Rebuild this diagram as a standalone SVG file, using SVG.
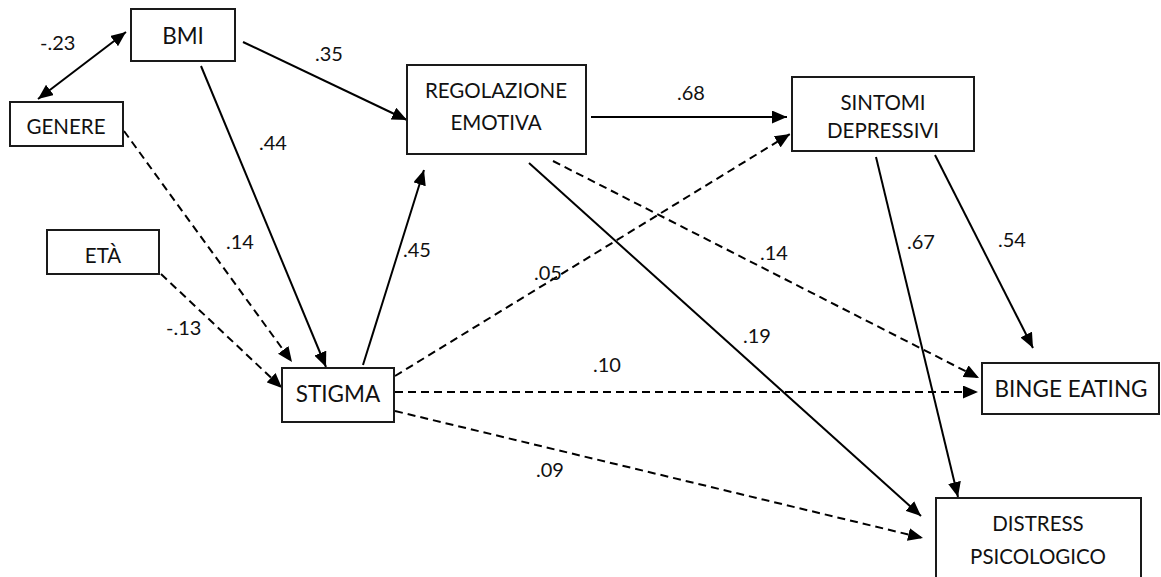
<svg xmlns="http://www.w3.org/2000/svg" width="1161" height="577" viewBox="0 0 1161 577">
<style>
.box{fill:#fff;stroke:#1a1a1a;stroke-width:2}
.t{font-family:Lato,"Liberation Sans",sans-serif;font-size:20.5px;fill:#111;text-anchor:middle}
.tb{font-size:22.5px}
.lbl{font-family:Lato,"Liberation Sans",sans-serif;font-size:20px;fill:#111}
.c{stroke:#000;stroke-width:2;fill:none;marker-end:url(#ah)}
.d{stroke-dasharray:8 5}
</style>
<defs>
<marker id="ah" markerUnits="userSpaceOnUse" markerWidth="15" markerHeight="13" refX="15" refY="6.5" orient="auto-start-reverse">
<path d="M0,0 L15,6.5 L0,13 z" fill="#000"/>
</marker>
</defs>
<rect width="1161" height="577" fill="#fff"/>
<g id="connectors">
<line class="c" x1="38" y1="99" x2="126" y2="32" marker-start="url(#ah)"/>
<line class="c" x1="243" y1="42" x2="407" y2="120"/>
<line class="c" x1="201" y1="66" x2="326" y2="367"/>
<line class="c d" x1="124" y1="131" x2="292" y2="362"/>
<line class="c d" x1="161" y1="274" x2="282" y2="388"/>
<line class="c" x1="363" y1="365" x2="424" y2="170"/>
<line class="c" x1="591" y1="117" x2="787" y2="117"/>
<line class="c d" x1="395" y1="376" x2="790" y2="134"/>
<line class="c" x1="529" y1="163" x2="921" y2="516"/>
<line class="c d" x1="553" y1="161" x2="979" y2="378"/>
<line class="c" x1="935" y1="155" x2="1033" y2="348"/>
<line class="c" x1="876" y1="157" x2="958" y2="497"/>
<line class="c d" x1="395" y1="392" x2="978" y2="392"/>
<line class="c d" x1="395" y1="411" x2="923" y2="538"/>
<text class="lbl" x="40" y="50">-.23</text>
<text class="lbl" x="315" y="61">.35</text>
<text class="lbl" x="259" y="150">.44</text>
<text class="lbl" x="226" y="249">.14</text>
<text class="lbl" x="166" y="335">-.13</text>
<text class="lbl" x="403" y="257">.45</text>
<text class="lbl" x="677" y="100">.68</text>
<text class="lbl" x="534" y="280">.05</text>
<text class="lbl" x="743" y="343">.19</text>
<text class="lbl" x="760" y="260">.14</text>
<text class="lbl" x="998" y="247">.54</text>
<text class="lbl" x="907" y="249">.67</text>
<text class="lbl" x="593" y="372">.10</text>
<text class="lbl" x="536" y="477">.09</text>
</g>
<g id="bmi"><rect class="box" x="131" y="9" width="104" height="52"/><text class="t tb" x="183" y="44">BMI</text></g>
<g id="genere"><rect class="box" x="10" y="102" width="113" height="44"/><text class="t" x="66" y="134">GENERE</text></g>
<g id="eta"><rect class="box" x="47" y="230" width="112" height="44"/><text class="t" x="103" y="263">ETÀ</text></g>
<g id="stigma"><rect class="box" x="282" y="368" width="112" height="54"/><text class="t tb" x="338" y="402">STIGMA</text></g>
<g id="regolazione"><rect class="box" x="407" y="65" width="179" height="89"/><text class="t" x="496" y="98">REGOLAZIONE</text><text class="t" x="496" y="130">EMOTIVA</text></g>
<g id="sintomi"><rect class="box" x="792" y="77" width="182" height="74"/><text class="t" x="883" y="110">SINTOMI</text><text class="t" x="883" y="138">DEPRESSIVI</text></g>
<g id="binge"><rect class="box" x="982" y="363" width="177" height="51"/><text class="t tb" x="1071" y="397">BINGE EATING</text></g>
<g id="distress"><rect class="box" x="936" y="498" width="205" height="90"/><text class="t" x="1038" y="531">DISTRESS</text><text class="t" x="1038" y="564">PSICOLOGICO</text></g>
</svg>
